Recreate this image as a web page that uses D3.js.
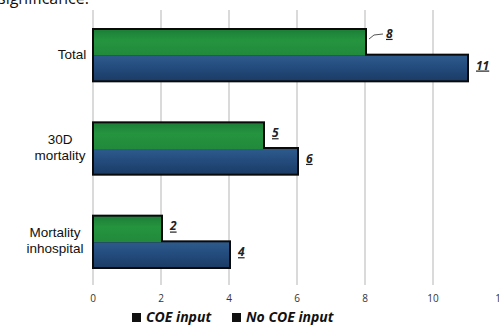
<!DOCTYPE html>
<html>
<head>
<meta charset="utf-8">
<script src="https://cdnjs.cloudflare.com/ajax/libs/d3/7.8.5/d3.min.js"></script>
<style>
  body { margin: 0; background: #fff; }
  svg { display: block; font-family: "Open Sans", sans-serif; }
</style>
</head>
<body>
<div id="chart"></div>
<script>
// data
var categories = [["Total"], ["30D", "mortality"], ["Mortality", "inhospital"]];
var seriesNames = ["COE input", "No COE input"];
var coeValues = [8, 5, 2];
var noCoeValues = [11, 6, 4];
var xTicks = [0, 2, 4, 6, 8, 10, 12];

var width = 499, height = 326;
var margin = { top: 8, right: 0, bottom: 41, left: 93 };

var svg = d3.select("#chart").append("svg")
    .attr("width", width)
    .attr("height", height);

// gradients for the bars
var defs = svg.append("defs");
var gGreen = defs.append("linearGradient").attr("id", "gGreen")
    .attr("x1", 0).attr("y1", 0).attr("x2", 0).attr("y2", 1);
gGreen.append("stop").attr("offset", "0%").attr("stop-color", "#1c7f37");
gGreen.append("stop").attr("offset", "40%").attr("stop-color", "#25943f");
gGreen.append("stop").attr("offset", "100%").attr("stop-color", "#218a3b");
var gBlue = defs.append("linearGradient").attr("id", "gBlue")
    .attr("x1", 0).attr("y1", 0).attr("x2", 0).attr("y2", 1);
gBlue.append("stop").attr("offset", "0%").attr("stop-color", "#2d5a8c");
gBlue.append("stop").attr("offset", "50%").attr("stop-color", "#234b7c");
gBlue.append("stop").attr("offset", "100%").attr("stop-color", "#1b3c66");

// top text cut off by the crop
svg.append("text")
    .attr("x", -2).attr("y", 4)
    .style("font-size", "16px").style("fill", "#111")
    .text("significance.");

var x = d3.scaleLinear()
    .domain([0, 12])
    .range([margin.left, margin.left + 34 * 12]);

var y = d3.scaleBand()
    .domain(d3.range(categories.length))
    .range([margin.top, height - margin.bottom + 3])
    .paddingInner(0.45)
    .paddingOuter(0.225);

var ySub = d3.scaleBand()
    .domain([0, 1])
    .range([0, y.bandwidth()]);

// grid lines
svg.append("g")
    .selectAll("line")
    .data(xTicks)
    .enter().append("line")
    .attr("x1", d => x(d)).attr("x2", d => x(d))
    .attr("y1", 10).attr("y2", 285)
    .attr("stroke", "#b5b5b5")
    .attr("stroke-width", 1);

// x tick labels
svg.append("g")
    .selectAll("text")
    .data(xTicks)
    .enter().append("text")
    .attr("x", d => x(d))
    .attr("y", 302)
    .attr("text-anchor", "middle")
    .style("font-size", "10px")
    .style("fill", "#333")
    .text(d => d);

// bars
var groups = svg.append("g")
    .selectAll("g")
    .data(categories.map((c, i) => ({ i: i, vals: [coeValues[i], noCoeValues[i]] })))
    .enter().append("g")
    .attr("transform", d => "translate(0," + y(d.i) + ")");

// black outline behind bars
groups.selectAll("rect.outline")
    .data(d => d.vals)
    .enter().append("rect")
    .attr("class", "outline")
    .attr("x", x(0) - 1)
    .attr("y", (d, j) => ySub(j) - 1)
    .attr("width", d => x(d) - x(0) + 3)
    .attr("height", ySub.bandwidth() + 3)
    .attr("fill", "#0a0a0a");

groups.selectAll("rect.bar")
    .data(d => d.vals)
    .enter().append("rect")
    .attr("class", "bar")
    .attr("x", x(0) + 1)
    .attr("y", (d, j) => ySub(j) + 1)
    .attr("width", d => x(d) - x(0) - 1)
    .attr("height", (d, j) => ySub.bandwidth() - (j === 0 ? 0 : 1))
    .attr("fill", (d, j) => j === 0 ? "url(#gGreen)" : "url(#gBlue)");

// value labels
groups.selectAll("text.val")
    .data(d => d.vals.map((v, j) => ({ v: v, j: j, i: d.i })))
    .enter().append("text")
    .attr("class", "val")
    .attr("x", d => x(d.v) + (d.i === 0 && d.j === 0 ? 21 : 9))
    .attr("y", d => ySub(d.j) + ySub.bandwidth() / 2 + (d.i === 0 && d.j === 0 ? -4 : 2))
    .style("font-size", "12px")
    .style("font-weight", "bold")
    .style("font-style", "italic")
    .style("text-decoration", "underline")
    .style("fill", "#222")
    .text(d => d.v);

// leader line for the "8" label
svg.append("path")
    .attr("d", "M" + (x(coeValues[0]) + 4) + "," + (y(0) + 10) +
        " L" + (x(coeValues[0]) + 9) + "," + (y(0) + 6) +
        " L" + (x(coeValues[0]) + 18) + "," + (y(0) + 5))
    .attr("fill", "none")
    .attr("stroke", "#555")
    .attr("stroke-width", 1);

// category labels
var catLabels = svg.append("g")
    .selectAll("text")
    .data(categories)
    .enter().append("text")
    .attr("text-anchor", "middle")
    .style("font-family", "'Liberation Sans', Arial, sans-serif")
    .style("font-size", "13.5px")
    .style("fill", "#111")
    .attr("transform", (d, i) => {
        var cx = d.length === 1 ? 72 : (i === 1 ? 60 : 55);
        var cy = y(i) + y.bandwidth() / 2 - (d.length - 1) * 8 + 4;
        return "translate(" + cx + "," + cy + ")";
    });
catLabels.selectAll("tspan")
    .data(d => d)
    .enter().append("tspan")
    .attr("x", 0)
    .attr("dy", (d, k) => k === 0 ? 0 : 16)
    .text(d => d);

// legend
var legend = svg.append("g").attr("transform", "translate(132,322)");
var legendX = [0, 100];
seriesNames.forEach(function (name, k) {
    legend.append("rect")
        .attr("x", legendX[k]).attr("y", -9)
        .attr("width", 9).attr("height", 9)
        .attr("fill", "#111");
    legend.append("text")
        .attr("x", legendX[k] + 14).attr("y", 0)
        .style("font-size", "14px")
        .style("font-weight", "bold")
        .style("font-style", "italic")
        .style("fill", "#111")
        .text(name);
});
</script>
</body>
</html>
